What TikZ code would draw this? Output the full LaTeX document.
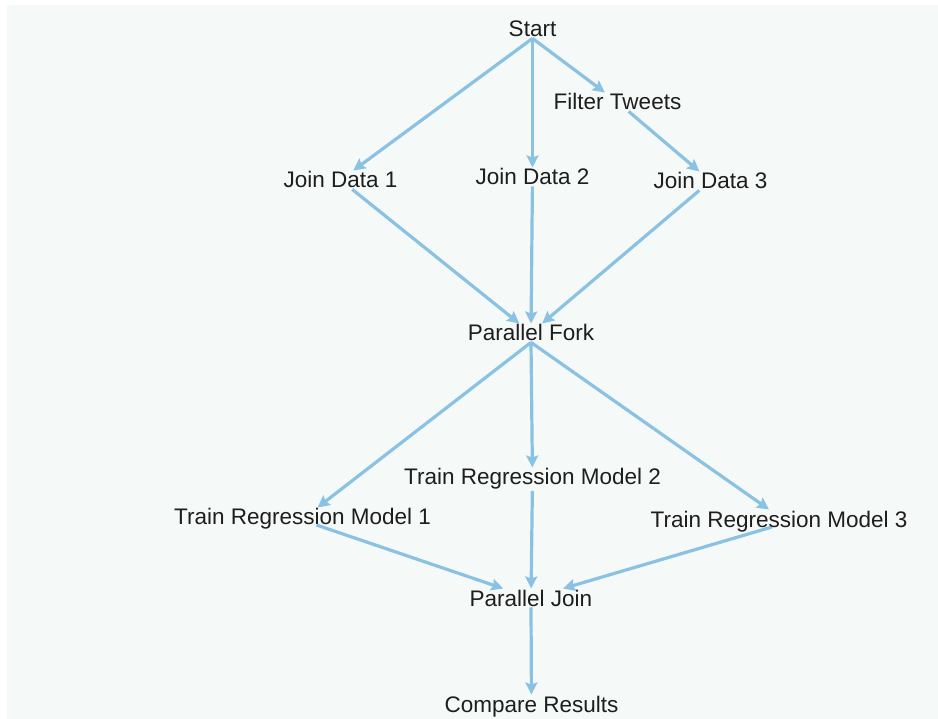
\documentclass[tikz,border=0pt]{standalone}
\usepackage{fontspec}
\setmainfont{Liberation Sans}
\usetikzlibrary{arrows.meta}
\definecolor{bgpanel}{HTML}{F5F9F7}
\definecolor{flowblue}{RGB}{138,194,228}
\definecolor{labelgray}{HTML}{1E1E1E}
\pgfdeclarelayer{panel}
\pgfdeclarelayer{edges}
\pgfsetlayers{panel,edges,main}
\begin{document}
\begin{tikzpicture}[x=1pt, y=-1pt,
  lbl/.style={anchor=base, inner sep=1pt, text=labelgray, font=\fontsize{22.5}{26}\selectfont},
  flow/.style={-{Stealth[length=12pt, width=12pt, inset=2pt]}, draw=flowblue, line width=3.2pt}]
\useasboundingbox (0,0) rectangle (938,719);
\begin{pgfonlayer}{panel}
\fill[bgpanel] (7,5) rectangle (938,719);
\end{pgfonlayer}

\node[lbl] (st) at (532.5,37) {Start};
\node[lbl] (ft) at (617.5,110) {Filter Tweets};
\node[lbl] (j1) at (340.5,188) {Join Data 1};
\node[lbl] (j2) at (532.5,185) {Join Data 2};
\node[lbl] (j3) at (710.5,189) {Join Data 3};
\node[lbl] (pf) at (531,341) {Parallel Fork};
\node[lbl] (m2) at (532.5,485) {Train Regression Model 2};
\node[lbl] (m1) at (302.5,525) {Train Regression Model 1};
\node[lbl] (m3) at (779,527) {Train Regression Model 3};
\node[lbl] (pj) at (531,606) {Parallel Join};
\node[lbl] (cr) at (531.5,712) {Compare Results};

\begin{pgfonlayer}{edges}
\draw[flow] (st.south) -- (j1);
\draw[flow] (st.south) -- (j2);
\draw[flow] (st.south) -- (ft);
\draw[flow] (ft) -- (j3);
\draw[flow] (j1) -- (pf);
\draw[flow] (j2) -- (pf);
\draw[flow] (j3) -- (pf);
\draw[flow] (pf.south) -- (m1);
\draw[flow] (pf.south) -- (m2);
\draw[flow] (pf.south) -- ([xshift=-10pt]m3.north);
\draw[flow] ([xshift=14pt]m1.base) -- (pj);
\draw[flow] (m2) -- (pj);
\draw[flow] ([xshift=-7pt]m3.base) -- (pj);
\draw[flow] (pj.south) -- (cr);
\end{pgfonlayer}
\end{tikzpicture}
\end{document}
